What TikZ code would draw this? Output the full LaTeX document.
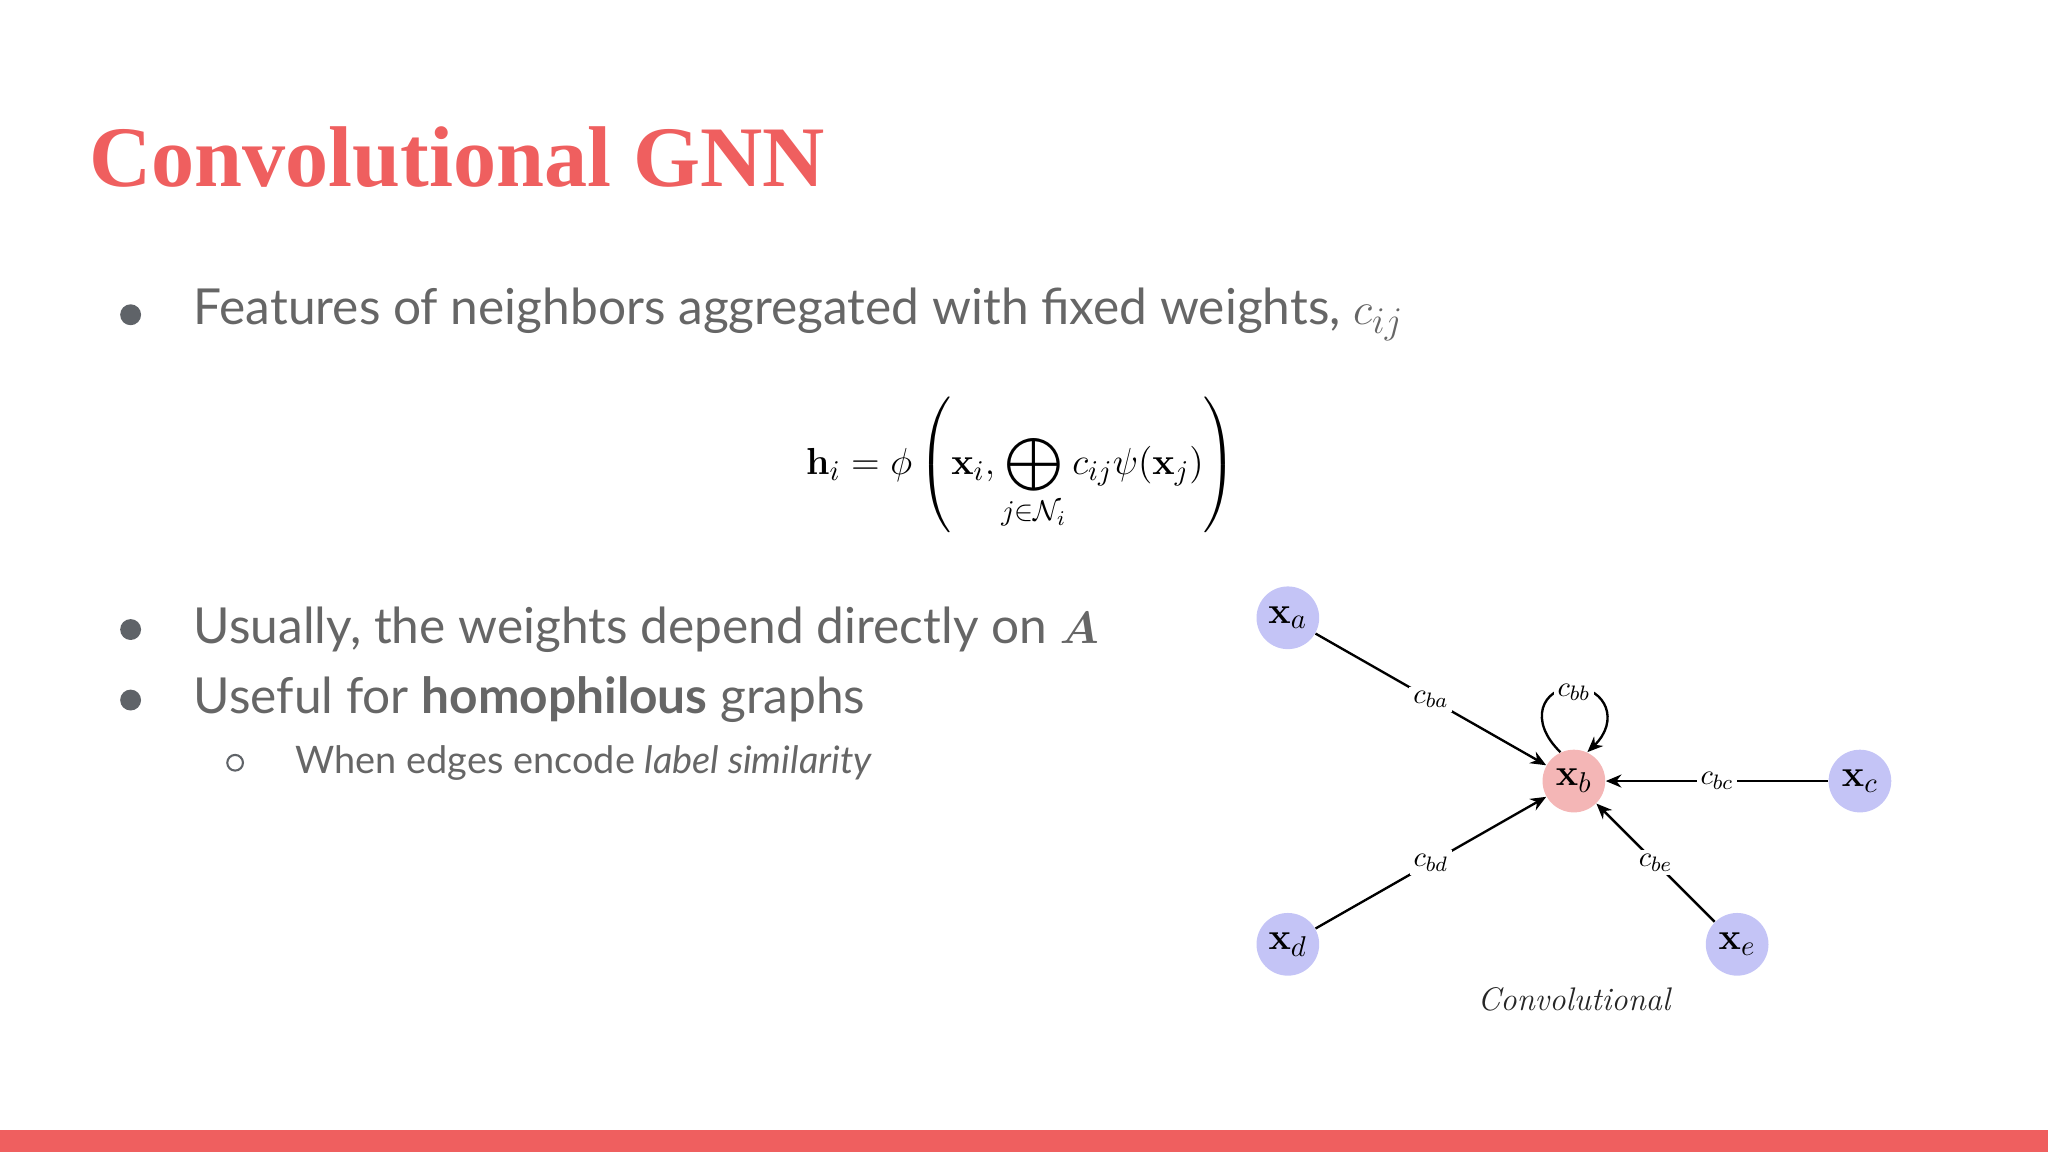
\documentclass[tikz,border=0pt]{standalone}
\usepackage{amsmath}
\usepackage[no-math]{fontspec}
\setmainfont{Lato}
\newfontfamily\titlefont{Liberation Serif}
\newfontfamily\lmfont{Latin Modern Roman}
\usetikzlibrary{arrows.meta}
\definecolor{salmon}{HTML}{EF5F5F}
\definecolor{txtgrey}{HTML}{666666}
\definecolor{bulgrey}{HTML}{5F6368}
\definecolor{lav}{HTML}{C4C4F6}
\definecolor{pinkn}{HTML}{F4B6B6}
\tikzset{
  gnode/.style={circle,fill=lav,minimum size=24pt,inner sep=0pt,font=\fontsize{15}{15}\selectfont},
  edgelab/.style={fill=white,inner sep=1.5pt,font=\fontsize{11}{11}\selectfont},
  arr/.style={-{Stealth[length=6pt,width=5pt]},line width=0.9pt},
  btxt/.style={anchor=west,text=txtgrey,font=\fontsize{19}{20}\selectfont,inner sep=0pt},
}
\begin{document}
\begin{tikzpicture}[x=0.5pt,y=0.5pt]
\useasboundingbox (0,0) rectangle (1568,882);
\fill[salmon] (0,0) rectangle (1568,17);
\node[anchor=west,text=salmon,inner sep=0pt,font=\titlefont\bfseries\fontsize{33}{36}\selectfont] (title) at (68,762) {Convolutional GNN};
% bullets
\fill[bulgrey] (100,641) circle (8);
\node[btxt] (b1) at (148,641) {Features of neighbors aggregated with fixed weights, $c_{ij}$};
\node[inner sep=0pt,font=\fontsize{15.5}{17}\selectfont] (eq) at (782,526) {$\displaystyle \mathbf{h}_i=\phi\left(\mathbf{x}_i,\bigoplus_{j\in\mathcal{N}_i}c_{ij}\psi(\mathbf{x}_j)\right)$};
\fill[bulgrey] (100,400) circle (8);
\node[btxt] (b2) at (148,400) {Usually, the weights depend directly on $\boldsymbol{A}$};
\fill[bulgrey] (100,346) circle (8);
\node[btxt] (b3) at (148,346) {Useful for \textbf{homophilous} graphs};
\draw[bulgrey,line width=0.8pt] (180,298) circle (6);
\node[btxt,font=\fontsize{14.5}{16}\selectfont] (b4) at (226,298) {When edges encode \textit{label similarity}};
% graph
\node[gnode] (xa) at (986,409) {$\mathbf{x}_a$};
\node[gnode,fill=pinkn] (xb) at (1205,284) {$\mathbf{x}_b$};
\node[gnode] (xc) at (1424,284) {$\mathbf{x}_c$};
\node[gnode] (xd) at (986,159) {$\mathbf{x}_d$};
\node[gnode] (xe) at (1330,159) {$\mathbf{x}_e$};
\draw[arr] (xa) -- node[edgelab]{$c_{ba}$} (xb);
\draw[arr] (xd) -- node[edgelab]{$c_{bd}$} (xb);
\draw[arr] (xc) -- node[edgelab]{$c_{bc}$} (xb);
\draw[arr] (xe) -- node[edgelab]{$c_{be}$} (xb);
\draw[arr] (xb.115) .. controls (1170,330) and (1180,355) .. (1205,356) .. controls (1230,355) and (1240,330) .. (xb.65);
\node[edgelab] (cbb) at (1205,352) {$c_{bb}$};
\node[font=\lmfont\itshape\fontsize{12.5}{13}\selectfont,text=black!85] (cap) at (1205,117) {Convolutional};
\end{tikzpicture}
\end{document}
